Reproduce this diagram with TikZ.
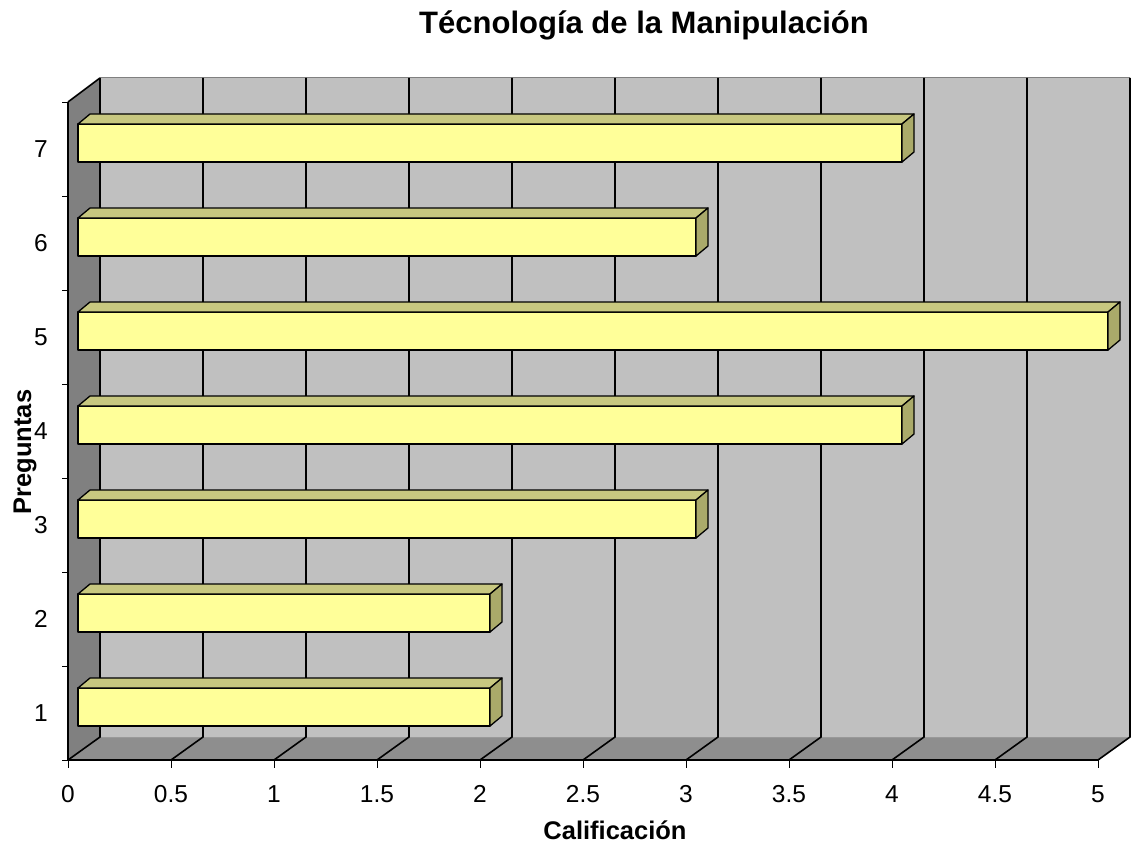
\documentclass[tikz,border=0pt]{standalone}
\usepackage{fontspec}
\setmainfont{Liberation Sans}
\definecolor{backgray}{HTML}{C0C0C0}
\definecolor{leftgray}{HTML}{808080}
\definecolor{floorgray}{HTML}{8E8E8E}
\definecolor{barfront}{HTML}{FFFF99}
\definecolor{bartop}{HTML}{C8C880}
\definecolor{barside}{HTML}{AAAA6A}
\begin{document}
\begin{tikzpicture}[x=1pt,y=-1pt,
  gridline/.style={black,line width=1.6pt},
  edge/.style={black,line width=1.6pt},
  tickmark/.style={black,line width=0.8pt},
  barface/.style={draw=black,line width=1.3pt,line join=round},
  ticklabel/.style={font=\fontsize{24.5}{24.5}\selectfont,inner sep=0pt},
  axistitle/.style={font=\fontsize{25.5}{25.5}\selectfont\bfseries,inner sep=0pt},
  charttitle/.style={font=\fontsize{31}{31}\selectfont\bfseries,inner sep=0pt}]
\useasboundingbox (0,0) rectangle (1131,845);
\fill[white] (0,0) rectangle (1131,845);
% back wall
\fill[backgray] (100,78) rectangle (1130,737);
\draw[gray,line width=1pt] (100,78) -- (1130,78);
% left wall
\fill[leftgray] (68,102) -- (100,78) -- (100,737) -- (68,760) -- cycle;
% floor
\fill[floorgray] (68,760) -- (100,737) -- (1130,737) -- (1098,760) -- cycle;
\draw[gray!80,line width=1pt] (100,737) -- (1130,737);
% grid lines
\foreach \k in {0,...,10} {
  \draw[gridline] (68+103*\k,760) -- (100+103*\k,737) -- (100+103*\k,78);
}
% axes
\draw[edge] (68,102) -- (100,78);
\draw[edge] (68,102) -- (68,760) -- (1098,760);
% ticks
\foreach \k in {0,...,7} { \draw[tickmark] (62,102+94*\k) -- (68,102+94*\k); }
\foreach \k in {0,...,10} { \draw[tickmark] (68+103*\k,760) -- (68+103*\k,768); }
% bars
\foreach \k/\v in {1/2,2/2,3/3,4/4,5/5,6/3,7/4} {
  \pgfmathsetmacro{\yc}{760-(\k-0.5)*94}
  \pgfmathsetmacro{\xe}{78+206*\v}
  \filldraw[barface,fill=barfront] (78,\yc-25) rectangle (\xe,\yc+13);
  \filldraw[barface,fill=bartop] (78,\yc-25) -- (90,\yc-35) -- (\xe+12,\yc-35) -- (\xe,\yc-25) -- cycle;
  \filldraw[barface,fill=barside] (\xe,\yc-25) -- (\xe+12,\yc-35) -- (\xe+12,\yc+3) -- (\xe,\yc+13) -- cycle;
}
% y labels
\foreach \k in {1,...,7} {
  \node[ticklabel,anchor=east] (ylab\k) at (48,760-94*\k+47) {\k};
}
% x labels
\foreach \lab [count=\i from 0] in {0,0.5,1,1.5,2,2.5,3,3.5,4,4.5,5} {
  \node[ticklabel] (xlab\i) at (68+103*\i,794) {\lab};
}
\node[charttitle] (title) at (644,25) {Técnología de la Manipulación};
\node[axistitle] (xtitle) at (615,830) {Calificación};
\node[axistitle,rotate=90] (ytitle) at (25,452) {Preguntas};
\end{tikzpicture}
\end{document}
